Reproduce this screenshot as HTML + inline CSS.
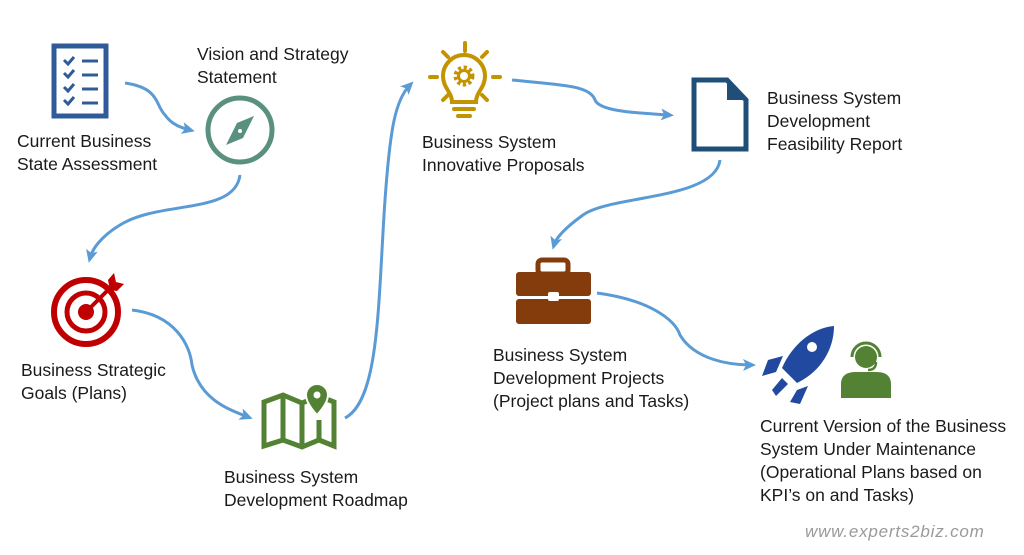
<!DOCTYPE html>
<html><head><meta charset="utf-8"><style>
html,body{margin:0;padding:0;background:#fff}
svg{display:block}
text{font-family:"Liberation Sans",sans-serif;font-size:17.5px;fill:#1a1a1a}
</style></head><body>
<svg width="1024" height="555" viewBox="0 0 1024 555" xmlns="http://www.w3.org/2000/svg">
<defs>
<marker id="ah" markerWidth="14" markerHeight="14" refX="8" refY="7" orient="auto" markerUnits="userSpaceOnUse">
<path d="M0,1 L13,7 L0,13 L3,7 Z" fill="#5b9bd5"/>
</marker>
</defs>
<g fill="none" stroke="#5b9bd5" stroke-width="3" marker-end="url(#ah)">
<path d="M125,83 C160,88 155,105 165,115 C172,125 182,128 190,130"/>
<path d="M240,175 C235,215 160,200 120,225 C100,237 92,250 90,258"/>
<path d="M132,310 C175,315 190,345 192,365 C200,400 230,410 248,417"/>
<path d="M345,418 C380,400 378,300 385,200 C390,130 395,100 410,85"/>
<path d="M512,80 C560,85 590,85 595,100 C600,112 640,113 669,115"/>
<path d="M720,160 C715,200 610,195 583,215 C565,228 556,238 554,245"/>
<path d="M597,293 C650,300 675,320 680,335 C695,360 730,365 751,365"/>
</g>
<!-- checklist -->
<rect x="54" y="46" width="52" height="70" fill="none" stroke="#2f5c99" stroke-width="5"/>
<g stroke="#2f5c99" stroke-width="3" fill="none">
<path d="M64,60 l4,4 l6,-7 M64,73 l4,4 l6,-7 M64,87 l4,4 l6,-7 M64,100 l4,4 l6,-7"/>
<path d="M82,61 h16 M82,75 h16 M82,89 h16 M82,103 h16"/>
</g>
<!-- compass -->
<circle cx="240" cy="130" r="32" fill="none" stroke="#5a9080" stroke-width="5"/>
<path d="M254,116 L243,138 L226,145 L237,123 Z" fill="#5a9080"/>
<circle cx="240" cy="131" r="2" fill="#fff"/>
<!-- target -->
<circle cx="86" cy="312" r="32" fill="none" stroke="#c00000" stroke-width="6"/>
<circle cx="86" cy="312" r="19" fill="none" stroke="#c00000" stroke-width="5"/>
<circle cx="86" cy="312" r="8" fill="#c00000"/>
<path d="M86,312 L113,285" stroke="#c00000" stroke-width="4"/>
<path d="M108,280 L114,273 L116,282 L124,284 L117,291 L110,290 Z" fill="#c00000"/>
<!-- map -->
<g fill="none" stroke="#548235" stroke-width="5" stroke-linejoin="miter">
<path d="M264,402 L283,395 L302,403 L319,396 L334,402 L334,446 L319,440 L302,447 L283,440 L264,446 Z"/>
<path d="M283,395 L283,440 M302,403 L302,447 M319,420 L319,440"/>
</g>
<path d="M317,384 a11,11 0 0 1 11,11 c0,9 -11,20 -11,20 c0,0 -11,-11 -11,-20 a11,11 0 0 1 11,-11 z" fill="#548235" stroke="#fff" stroke-width="2"/>
<circle cx="317" cy="395" r="3.5" fill="#fff"/>
<!-- bulb -->
<g stroke="#c39400" stroke-width="4" fill="none" stroke-linecap="round">
<path d="M452,102 C452,92 443,88 443,76 A21,21 0 0 1 485,76 C485,88 476,92 476,102 Z"/>
<path d="M454,109 h20 M458,116 h12"/>
<path d="M465,43 v8 M443,52 l5,5 M487,52 l-5,5 M430,77 h7 M493,77 h7 M443,100 l5,-5 M487,100 l-5,-5"/>
</g>
<circle cx="464" cy="76" r="8" fill="none" stroke="#c39400" stroke-width="5" stroke-dasharray="3 2.3"/>
<circle cx="464" cy="76" r="5.5" fill="none" stroke="#c39400" stroke-width="3"/>
<!-- document -->
<path d="M694,80 L727,80 L746,100 L746,149 L694,149 Z" fill="none" stroke="#1f4e79" stroke-width="5"/>
<path d="M727,80 L727,100 L746,100 Z" fill="#1f4e79"/>
<!-- briefcase -->
<rect x="538" y="260" width="30" height="14" rx="4" fill="none" stroke="#843c0c" stroke-width="5"/>
<rect x="516" y="272" width="75" height="24" rx="3" fill="#843c0c"/>
<rect x="516" y="299" width="75" height="25" rx="3" fill="#843c0c"/>
<rect x="548" y="292" width="11" height="9" rx="2" fill="#fff"/>
<!-- rocket -->
<path d="M834,326 C812,328 792,345 782,368 L797,383 C820,372 834,350 834,326 Z" fill="#2149a0"/>
<circle cx="812" cy="347" r="5" fill="#fff"/>
<path d="M783,356 L768,360 L762,376 L776,372 Z M797,390 L808,386 L800,404 L790,402 Z" fill="#2149a0"/>
<path d="M772,390 L782,378 L788,384 L776,396 Z" fill="#2149a0"/>
<!-- person -->
<circle cx="866" cy="357" r="11" fill="#548235"/>
<path d="M852,357 a14,14 0 0 1 28,0" fill="none" stroke="#548235" stroke-width="3"/>
<path d="M876,362 q0,8 -8,8" fill="none" stroke="#548235" stroke-width="2.5"/>
<path d="M841,398 L841,384 Q841,372 856,372 L876,372 Q891,372 891,384 L891,398 Z" fill="#548235"/>
<!-- labels -->
<text x="17" y="147">Current Business</text><text x="17" y="170">State Assessment</text>
<text x="197" y="60">Vision and Strategy</text><text x="197" y="83">Statement</text>
<text x="21" y="376">Business Strategic</text><text x="21" y="399">Goals (Plans)</text>
<text x="224" y="483">Business System</text><text x="224" y="506">Development Roadmap</text>
<text x="422" y="148">Business System</text><text x="422" y="171">Innovative Proposals</text>
<text x="767" y="104">Business System</text><text x="767" y="127">Development</text><text x="767" y="150">Feasibility Report</text>
<text x="493" y="361">Business System</text><text x="493" y="384">Development Projects</text><text x="493" y="407">(Project plans and Tasks)</text>
<text x="760" y="432">Current Version of the Business</text><text x="760" y="455">System Under Maintenance</text><text x="760" y="478">(Operational Plans based on</text><text x="760" y="501">KPI’s on and Tasks)</text>
<text x="805" y="537" style="font-style:italic;fill:#9a9a9a;font-size:17px;letter-spacing:0.8px">www.experts2biz.com</text>
</svg>
</body></html>
